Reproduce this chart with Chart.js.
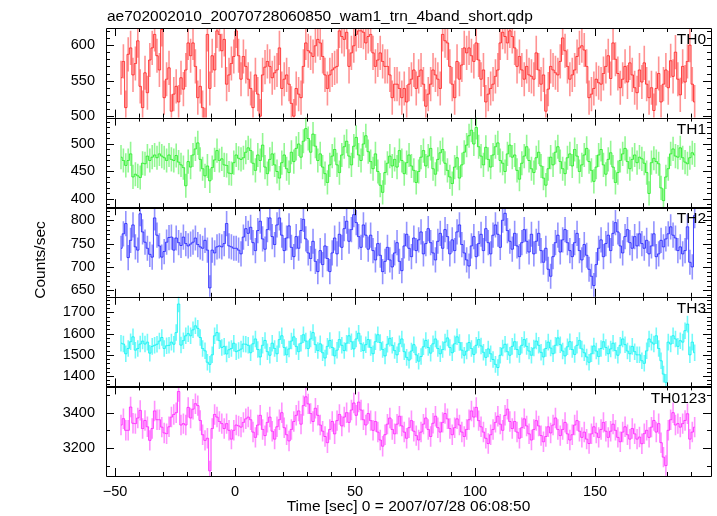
<!DOCTYPE html>
<html>
<head>
<meta charset="utf-8">
<script src="https://cdn.jsdelivr.net/npm/chart.js@4.4.1/dist/chart.umd.min.js"></script>
<style>
  html, body { margin: 0; padding: 0; background: #fff; }
</style>
</head>
<body>
<canvas id="lc" width="717" height="516"></canvas>
<script>
const titleText = 'ae702002010_20070728060850_wam1_trn_4band_short.qdp';
const xTitle = 'Time [sec] 0 = 2007/07/28 06:08:50';
const yTitle = 'Counts/sec';
const bandNames = ['TH0', 'TH1', 'TH2', 'TH3', 'TH0123'];
const bandColors = ['rgba(255,0,0,0.75)', 'rgba(0,235,0,0.75)', 'rgba(0,0,255,0.75)', 'rgba(0,240,240,0.8)', 'rgba(255,0,255,0.75)'];
const barColors = ['rgba(255,40,40,0.5)', 'rgba(40,240,40,0.5)', 'rgba(40,40,255,0.5)', 'rgba(0,245,245,0.55)', 'rgba(255,40,255,0.5)'];

// 1 s bins, first bin centre at -47.5 s
const firstBin = -47.5;

const th0 = [
  554,577,512,587,596,558,574,606,542,512,561,533,579,596,615,585,565,622,526,552,
  568,507,531,542,520,554,538,565,603,585,603,570,526,542,512,488,615,539,585,565,
  620,615,592,608,545,558,574,584,620,585,552,584,570,552,539,512,558,531,500,558,
  569,577,570,554,561,565,596,539,552,558,545,518,500,539,531,526,570,603,592,589,
  584,599,608,603,584,558,539,558,565,568,570,620,612,608,618,570,589,599,615,620,
  620,618,603,612,615,589,570,579,589,577,570,570,558,526,545,545,539,526,539,520,
  545,552,565,539,556,565,545,514,531,545,565,558,552,539,615,606,603,570,545,526,
  577,552,572,596,589,596,585,577,603,579,552,565,520,531,539,545,556,565,603,618,
  612,603,620,612,596,570,584,565,552,570,558,556,552,589,565,545,558,507,538,570,
  565,561,558,577,610,592,570,552,558,565,584,596,599,593,570,526,531,539,552,547,
  545,560,570,585,553,603,580,560,540,552,570,548,575,558,540,533,565,548,575,545,
  526,540,508,539,560,520,545,565,540,578,556,590,552,530,570,548,577,600,545,520
];

const th1 = [
  476,470,461,470,482,440,445,442,439,465,464,478,470,476,480,475,482,478,475,470,
  480,472,470,479,467,462,457,424,468,458,480,491,502,472,455,442,460,433,457,471,
  488,470,473,462,461,447,446,466,480,474,472,475,485,493,
  488,465,452,480,470,498,458,446,472,482,
  462,450,438,466,480,455,448,485,468,492,
  500,476,505,528,510,485,518,496,470,482,
  458,446,430,462,478,490,462,448,480,495,
  505,478,462,496,512,480,470,500,515,486,
  468,455,482,450,425,412,448,465,478,460,
  472,458,488,470,446,466,480,460,452,430,
  450,476,488,460,478,492,455,445,472,484,
  490,465,452,440,428,458,475,438,462,485,
  498,515,525,500,530,495,478,462,494,472,
  458,480,495,502,470,465,450,482,498,476,
  480,452,436,465,478,495,470,455,448,475,
  485,460,438,425,455,476,462,485,495,468,
  455,446,475,482,460,490,478,450,462,480,
  492,468,452,432,458,480,490,462,445,472,
  484,458,430,448,470,482,492,468,455,472,
  480,466,
  476,473,465,448,410,466,474,468,464,420,397,440,455,482,491,478,476,493,475,467,464,475,484,480
];

const th2 = [
  740,771,793,720,757,790,743,736,814,775,753,740,727,721,805,768,745,721,733,753,
  763,764,736,762,752,746,764,750,745,749,753,762,748,743,740,757,736,655,736,730,
  743,745,743,750,793,745,743,740,740,736,728,764,782,772,
  785,752,735,778,798,760,738,780,805,765,
  748,790,805,768,735,762,788,742,722,765,
  740,778,802,760,730,718,755,712,690,735,
  705,745,718,690,730,762,728,770,742,782,
  798,755,780,812,795,765,742,790,768,738,
  768,735,715,750,725,690,712,742,715,700,
  730,752,712,692,745,770,740,722,762,735,
  758,775,728,750,782,752,730,715,755,772,
  740,780,765,728,758,735,775,790,748,730,
  715,702,745,765,722,750,770,735,782,752,
  728,768,790,770,742,800,815,778,755,738,
  772,745,722,752,780,755,732,770,728,755,
  772,735,710,740,695,680,722,752,768,732,
  758,780,752,735,722,752,772,735,715,748,
  725,695,680,660,705,740,758,722,750,768,
  735,772,795,775,745,730,765,780,752,740,
  765,745,
  771,750,740,757,728,745,771,722,728,757,743,760,771,786,768,762,735,743,728,735,786,710,700,810
];

const th3 = [
  1555,1551,1505,1530,1562,1585,1522,1530,1551,1565,1551,1560,1508,1540,1545,1550,1565,1582,1530,1543,
  1545,1560,1550,1605,1740,1546,1567,1590,1600,1590,1618,1637,1625,1582,1530,1519,1465,1455,1500,1590,
  1605,1567,1535,1540,1504,1524,1530,1555,1515,1520,1527,1551,1550,1545,
  1510,1552,1575,1525,1490,1545,1568,1515,1498,1555,
  1530,1505,1572,1590,1535,1500,1528,1565,1585,1540,
  1515,1555,1595,1565,1530,1575,1605,1548,1520,1552,
  1510,1485,1540,1568,1535,1495,1522,1572,1545,1520,
  1555,1590,1562,1528,1575,1602,1552,1520,1548,1572,
  1535,1505,1562,1595,1558,1525,1495,1550,1578,1545,
  1520,1500,1552,1575,1515,1488,1475,1518,1548,1500,
  1470,1492,1538,1568,1535,1508,1552,1575,1530,1505,
  1525,1560,1580,1535,1510,1552,1585,1558,1522,1498,
  1518,1558,1530,1502,1545,1572,1542,1512,1488,1528,
  1505,1478,1455,1440,1498,1532,1550,1515,1498,1540,
  1562,1525,1502,1545,1572,1540,1518,1498,1532,1565,
  1545,1512,1490,1530,1560,1532,1505,1545,1580,1548,
  1518,1495,1538,1562,1525,1502,1545,1568,1528,1510,
  1490,1465,1505,1542,1518,1492,1530,1562,1535,1505,
  1528,1555,1520,1498,1545,1575,1548,1518,1505,1540,
  1515,1500,
  1500,1472,1460,1519,1575,1560,1551,1590,1530,1472,1409,1370,1560,1551,1590,1575,1540,1567,1560,1614,1645,1500,1560,1510
];

const th0123 = [
  3330,3366,3300,3300,3432,3340,3338,3370,3413,3310,3356,3320,3243,3310,3410,3360,3360,3318,3285,3281,
  3320,3375,3390,3400,3520,3330,3338,3330,3430,3370,3420,3451,3440,3356,3275,3243,3255,3070,3310,3390,
  3375,3350,3338,3310,3338,3300,3250,3300,3330,3325,3318,3345,3365,3375,
  3360,3290,3260,3330,3385,3305,3270,3345,3375,3295,
  3250,3320,3360,3400,3315,3275,3240,3305,3350,3385,
  3410,3335,3440,3490,3450,3395,3350,3425,3385,3330,
  3295,3265,3230,3305,3350,3280,3355,3390,3325,3375,
  3400,3345,3415,3455,3385,3460,3415,3360,3330,3395,
  3355,3300,3350,3290,3245,3210,3275,3335,3370,3305,
  3280,3335,3380,3325,3290,3255,3315,3355,3295,3270,
  3245,3290,3335,3370,3305,3265,3340,3380,3315,3290,
  3345,3395,3365,3310,3275,3315,3365,3330,3290,3265,
  3305,3360,3410,3375,3430,3355,3320,3290,3255,3225,
  3275,3305,3345,3380,3335,3300,3385,3420,3350,3310,
  3350,3290,3255,3315,3365,3325,3280,3245,3305,3355,
  3325,3270,3235,3265,3320,3285,3330,3370,3305,3270,
  3305,3345,3280,3245,3275,3330,3355,3295,3260,3290,
  3250,3225,3280,3320,3285,3260,3305,3345,3295,3260,
  3295,3335,3300,3260,3235,3290,3320,3275,3250,3310,
  3280,3250,
  3262,3224,3281,3300,3260,3318,3356,3290,3338,3230,3148,3100,3300,3360,3400,3330,3338,3318,3338,3356,3394,3250,3290,3318
];

const series = [th0, th1, th2, th3, th0123];
const errs = [24, 22, 27, 39, 58];

// axis ranges and ticks
const yMin = [498, 385, 636, 1351, 3041];
const yMax = [624, 548, 828, 1774, 3549];
const yLabels = [[500, 550, 600], [400, 450, 500], [650, 700, 750, 800], [1400, 1500, 1600, 1700], [3200, 3400]];
const yMajor = [50, 50, 50, 100, 200];
const yMinor = [10, 10, 10, 20, 100];
const xMin = -53.75, xMax = 198.3;
const xLabels = [-50, 0, 50, 100, 150];
const xMinor = 10;

const tickFont = { family: 'Liberation Sans', size: 14.5 };

const datasets = series.map((vals, k) => ({
  label: bandNames[k],
  data: vals.map((v, i) => ({ x: firstBin + i, y: v })),
  yAxisID: 'y' + k,
  xAxisID: 'x',
  borderColor: bandColors[k],
  borderWidth: 1,
  pointRadius: 0,
  stepped: 'middle',
  fill: false
}));

const scales = {
  x: {
    type: 'linear',
    position: 'bottom',
    min: xMin,
    max: xMax,
    afterBuildTicks: s => { s.ticks = xLabels.map(v => ({ value: v })); },
    afterFit: s => { s.height = 40; },
    grid: { display: false, drawTicks: false },
    border: { display: false },
    ticks: {
      font: tickFont, color: '#000', padding: 7, maxRotation: 0, autoSkip: false,
      callback: v => (v < 0 ? '\u2212' + Math.abs(v) : String(v))
    },
    title: {
      display: true, text: xTitle, color: '#000',
      font: { family: 'Liberation Sans', size: 15.5 }, padding: { top: 0, bottom: 0 }
    }
  }
};
// stacked axes are laid out bottom-up, so add the bottom panel first
for (let k = series.length - 1; k >= 0; k--) {
  scales['y' + k] = {
    type: 'linear',
    position: 'left',
    stack: 'panels',
    stackWeight: 1,
    min: yMin[k],
    max: yMax[k],
    afterBuildTicks: s => { s.ticks = yLabels[k].map(v => ({ value: v })); },
    afterFit: s => { s.width = 106; },
    grid: { display: false, drawTicks: false },
    border: { display: false },
    ticks: { font: tickFont, color: '#000', padding: 11, autoSkip: false, callback: v => String(v) }
  };
}

const qdpFrame = {
  id: 'qdpFrame',
  afterDatasetsDraw(chart) {
    const ctx = chart.ctx;
    const xs = chart.scales.x;
    const area = chart.chartArea;
    chart.data.datasets.forEach((ds, k) => {
      const ys = chart.scales['y' + k];
      ctx.save();
      ctx.beginPath();
      ctx.rect(area.left, ys.top, area.right - area.left, ys.bottom - ys.top);
      ctx.clip();
      ctx.strokeStyle = barColors[k];
      ctx.lineWidth = 1.6;
      ctx.beginPath();
      ds.data.forEach(p => {
        const x = xs.getPixelForValue(p.x);
        ctx.moveTo(x, ys.getPixelForValue(p.y - errs[k]));
        ctx.lineTo(x, ys.getPixelForValue(p.y + errs[k]));
      });
      ctx.stroke();
      ctx.restore();
    });
  },
  afterDraw(chart) {
    const ctx = chart.ctx;
    const xs = chart.scales.x;
    const area = chart.chartArea;
    ctx.save();
    ctx.strokeStyle = '#000';
    ctx.fillStyle = '#000';
    ctx.lineWidth = 1;
    series.forEach((_, k) => {
      const ys = chart.scales['y' + k];
      const top = ys.top, bot = ys.bottom;
      ctx.beginPath();
      ctx.rect(Math.round(area.left) + 0.5, Math.round(top) + 0.5,
               Math.round(area.right - area.left), Math.round(bot - top));
      // y ticks, left and right
      const start = Math.ceil(yMin[k] / yMinor[k]) * yMinor[k];
      for (let v = start; v <= yMax[k]; v += yMinor[k]) {
        const y = Math.round(ys.getPixelForValue(v)) + 0.5;
        const len = v % yMajor[k] === 0 ? 8 : 4;
        ctx.moveTo(area.left, y); ctx.lineTo(area.left + len, y);
        ctx.moveTo(area.right, y); ctx.lineTo(area.right - len, y);
      }
      // x ticks, top and bottom of every panel
      for (let v = -50; v <= 190; v += xMinor) {
        const x = Math.round(xs.getPixelForValue(v)) + 0.5;
        const len = v % 50 === 0 ? 8 : 4;
        ctx.moveTo(x, top); ctx.lineTo(x, top + len);
        ctx.moveTo(x, bot); ctx.lineTo(x, bot - len);
      }
      ctx.stroke();
      // panel name
      ctx.font = '15.5px "Liberation Sans"';
      ctx.textAlign = 'right';
      ctx.textBaseline = 'middle';
      ctx.fillText(bandNames[k], area.right - 5, top + 12);
    });
    // file name on top
    ctx.font = '15.5px "Liberation Sans"';
    ctx.textAlign = 'left';
    ctx.textBaseline = 'alphabetic';
    ctx.fillText(titleText, 107, 21);
    // shared y title
    ctx.translate(41, 260);
    ctx.rotate(-Math.PI / 2);
    ctx.textAlign = 'center';
    ctx.textBaseline = 'middle';
    ctx.fillText(yTitle, 0, 0);
    ctx.restore();
  }
};

new Chart(document.getElementById('lc').getContext('2d'), {
  type: 'line',
  data: { datasets },
  options: {
    responsive: false,
    animation: false,
    layout: { padding: { top: 28, right: 6, left: 0, bottom: 0 } },
    plugins: { legend: { display: false }, tooltip: { enabled: false }, title: { display: false } },
    scales
  },
  plugins: [qdpFrame]
});
</script>
</body>
</html>
